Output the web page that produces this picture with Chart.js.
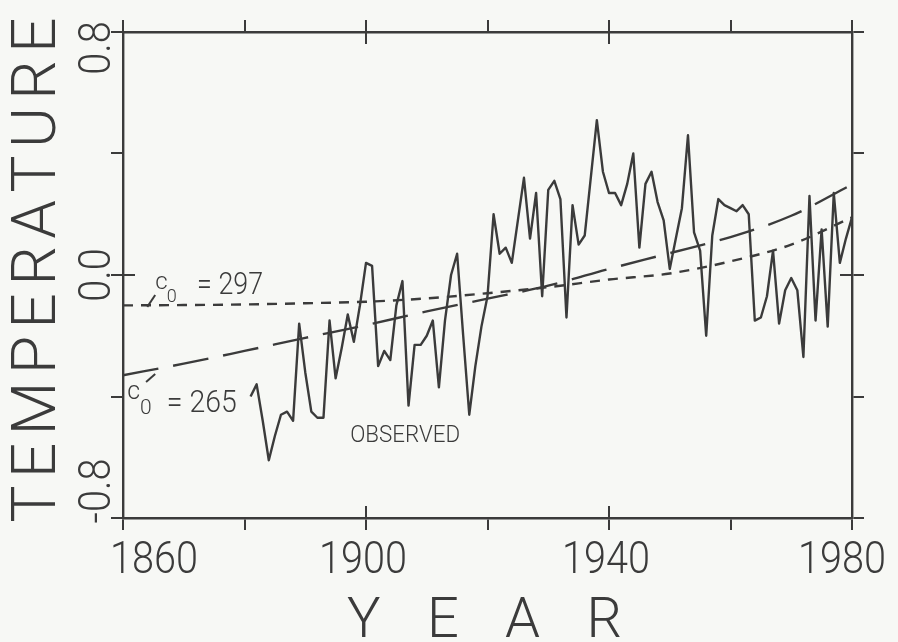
<!DOCTYPE html>
<html>
<head>
<meta charset="utf-8">
<script src="https://cdn.jsdelivr.net/npm/chart.js@4.4.1/dist/chart.umd.min.js"></script>
<style>
  html, body { margin: 0; padding: 0; background: #f7f8f5; }
  #wrap { width: 898px; height: 642px; }
</style>
</head>
<body>
<div id="wrap"><canvas id="chart" width="898" height="642"></canvas></div>
<script>
// ------------------------------------------------------------
// Data
// ------------------------------------------------------------
const OBS_START = 1881;   // first observed year, one value per year
const OBS_TEMPS = [
  -0.40, -0.36, -0.48, -0.61, -0.53, -0.46, -0.45, -0.48, -0.16, -0.32,   // 1881-1890
  -0.45, -0.47, -0.47, -0.15, -0.34, -0.24, -0.13, -0.22, -0.10,  0.04,   // 1891-1900
   0.03, -0.30, -0.25, -0.28, -0.10, -0.02, -0.43, -0.23, -0.23, -0.20,   // 1901-1910
  -0.15, -0.37, -0.15,  0.00,  0.07, -0.20, -0.46, -0.30, -0.17, -0.07,   // 1911-1920
   0.20,  0.07,  0.09,  0.04,  0.18,  0.32,  0.12,  0.27, -0.07,  0.28,   // 1921-1930
   0.31,  0.25, -0.14,  0.23,  0.10,  0.13,  0.32,  0.51,  0.34,  0.27,   // 1931-1940
   0.27,  0.23,  0.30,  0.40,  0.09,  0.30,  0.34,  0.24,  0.18,  0.02,   // 1941-1950
   0.12,  0.22,  0.46,  0.14,  0.08, -0.20,  0.13,  0.25,  0.23,  0.22,   // 1951-1960
   0.21,  0.23,  0.20, -0.15, -0.14, -0.07,  0.08, -0.16, -0.05, -0.01,   // 1961-1970
  -0.05, -0.27,  0.26, -0.15,  0.15, -0.17,  0.27,  0.04,  0.12,  0.19    // 1971-1980
];

// model curves (c0 = 297 and c0 = 265), read every 10 years
const MODEL_YEARS = [1860, 1870, 1880, 1890, 1900, 1910, 1920, 1930, 1940, 1950, 1960, 1970, 1980];
const MODEL_297   = [-0.100, -0.099, -0.097, -0.093, -0.088, -0.077, -0.060, -0.040, -0.015, 0.005, 0.045, 0.100, 0.190];
const MODEL_265   = [-0.330, -0.292, -0.250, -0.207, -0.165, -0.120, -0.078, -0.035, 0.020, 0.072, 0.125, 0.195, 0.298];

// labelled ticks (the others are unlabelled)
const X_TICK_LABELS = [1860, 1900, 1940, 1980];
const Y_TICK_LABELS = [-0.8, 0.0, 0.8];

const INK = '#3b3b3b';
const FONT = 'Roboto, "DejaVu Sans", sans-serif';

// ------------------------------------------------------------
// Text helpers (plotter style lettering)
// ------------------------------------------------------------
function drawText(ctx, text, x, y, size, opts = {}) {
  const { align = 'left', rotate = false, width = null, scaleX = 1 } = opts;
  ctx.save();
  ctx.translate(x, y);
  if (rotate) ctx.rotate(-Math.PI / 2);
  ctx.font = `300 ${size}px ${FONT}`;
  const w = ctx.measureText(text).width;
  ctx.scale(width ? width / w : scaleX, 1);
  ctx.textAlign = align;
  ctx.textBaseline = 'alphabetic';
  ctx.fillStyle = INK;
  ctx.fillText(text, 0, 0);
  ctx.restore();
}

// spread the letters of a title over a given length, centred on (cx, cy)
function drawSpaced(ctx, text, cx, cy, size, span, rotate) {
  ctx.save();
  ctx.translate(cx, cy);
  if (rotate) ctx.rotate(-Math.PI / 2);
  ctx.font = `300 ${size}px ${FONT}`;
  ctx.textAlign = 'left';
  ctx.textBaseline = 'alphabetic';
  ctx.fillStyle = INK;
  const chars = [...text];
  const widths = chars.map(ch => ctx.measureText(ch).width);
  const gap = (span - widths.reduce((a, b) => a + b, 0)) / (chars.length - 1);
  let pos = -span / 2;
  chars.forEach((ch, i) => { ctx.fillText(ch, pos, 0); pos += widths[i] + gap; });
  ctx.restore();
}

function line(ctx, x1, y1, x2, y2, w) {
  ctx.beginPath();
  ctx.moveTo(x1, y1);
  ctx.lineTo(x2, y2);
  ctx.lineWidth = w;
  ctx.strokeStyle = INK;
  ctx.stroke();
}

// ------------------------------------------------------------
// Plugin: inner half of major ticks, tick labels, titles, notes
// ------------------------------------------------------------
const plotterMarks = {
  id: 'plotterMarks',
  afterDraw(chart) {
    const { ctx, chartArea: a } = chart;
    const xs = chart.scales.x, ys = chart.scales.y;
    const X = v => xs.getPixelForValue(v);
    const Y = v => ys.getPixelForValue(v);
    const TICK = 12;

    ctx.save();
    ctx.lineCap = 'butt';

    // major ticks cross the frame
    X_TICK_LABELS.forEach(v => {
      const px = X(v);
      line(ctx, px, a.bottom, px, a.bottom - TICK, 2);
      line(ctx, px, a.top, px, a.top + TICK, 2);
    });
    Y_TICK_LABELS.forEach(v => {
      const py = Y(v);
      line(ctx, a.left, py, a.left + TICK, py, 2);
      line(ctx, a.right, py, a.right - TICK, py, 2);
    });

    // x tick labels (end labels pulled inside, as on the plot)
    X_TICK_LABELS.forEach((v, i) => {
      let px = X(v) - 3;
      if (i === 0) px = X(v) + 31;
      if (i === X_TICK_LABELS.length - 1) px = X(v) - 10;
      drawText(ctx, String(v), px, a.bottom + 55, 44, { align: 'center', scaleX: 0.9 });
    });

    // y tick labels, rotated
    Y_TICK_LABELS.forEach((v, i) => {
      let py = Y(v);
      if (i === 0) py -= 27;
      if (i === Y_TICK_LABELS.length - 1) py += 16;
      drawText(ctx, v.toFixed(1), a.left - 13, py, 44, { align: 'center', rotate: true, scaleX: 0.9 });
    });

    // axis titles
    drawSpaced(ctx, 'TEMPERATURE', 55, 270, 62, 505, true);
    drawSpaced(ctx, 'YEAR', (a.left + a.right) / 2 - 3, a.bottom + 119, 56, 275, false);

    // curve notes
    drawText(ctx, 'c', X(1865.3), Y(-0.046), 24);
    drawText(ctx, '0', X(1867.2), Y(-0.089), 18);
    drawText(ctx, '= 297', X(1872.2), Y(-0.0625), 31, { width: 66 });
    line(ctx, X(1864.0), Y(-0.105), X(1865.3), Y(-0.066), 2);

    drawText(ctx, 'c', X(1860.7), Y(-0.408), 25);
    drawText(ctx, '0', X(1862.8), Y(-0.458), 21);
    drawText(ctx, '= 265', X(1867.2), Y(-0.451), 32, { width: 70 });
    line(ctx, X(1863.8), Y(-0.352), X(1865.3), Y(-0.326), 2);

    drawText(ctx, 'OBSERVED', X(1897.4), Y(-0.55), 24, { width: 110 });

    ctx.restore();
  }
};

function frameAxis(position, min, max, step) {
  return {
    type: 'linear',
    position,
    min,
    max,
    ticks: { display: false, stepSize: step },
    grid: { drawOnChartArea: false, drawTicks: true, tickLength: 12, color: INK, lineWidth: 2 },
    border: { display: true, color: INK, width: 2.4 }
  };
}

const lineStyle = { borderColor: INK, pointRadius: 0, fill: false, xAxisID: 'x', yAxisID: 'y' };

new Chart(document.getElementById('chart'), {
  type: 'line',
  data: {
    datasets: [
      {
        ...lineStyle,
        label: 'Observed',
        data: OBS_TEMPS.map((v, i) => ({ x: OBS_START + i, y: v })),
        borderWidth: 2.4,
        borderJoinStyle: 'round',
        tension: 0
      },
      {
        ...lineStyle,
        label: 'c0 = 297',
        data: MODEL_YEARS.map((yr, i) => ({ x: yr, y: MODEL_297[i] })),
        borderWidth: 2.4,
        borderDash: [10, 8],
        cubicInterpolationMode: 'monotone'
      },
      {
        ...lineStyle,
        label: 'c0 = 265',
        data: MODEL_YEARS.map((yr, i) => ({ x: yr, y: MODEL_265[i] })),
        borderWidth: 2.4,
        borderDash: [36, 15],
        cubicInterpolationMode: 'monotone'
      }
    ]
  },
  options: {
    responsive: false,
    animation: false,
    devicePixelRatio: 1,
    layout: { padding: { left: 111, right: 34, top: 20, bottom: 112 } },
    plugins: { legend: { display: false }, tooltip: { enabled: false } },
    scales: {
      x: frameAxis('bottom', 1860, 1980, 20),
      x2: frameAxis('top', 1860, 1980, 20),
      y: frameAxis('left', -0.8, 0.8, 0.4),
      y2: frameAxis('right', -0.8, 0.8, 0.4)
    }
  },
  plugins: [plotterMarks]
});
</script>
</body>
</html>
